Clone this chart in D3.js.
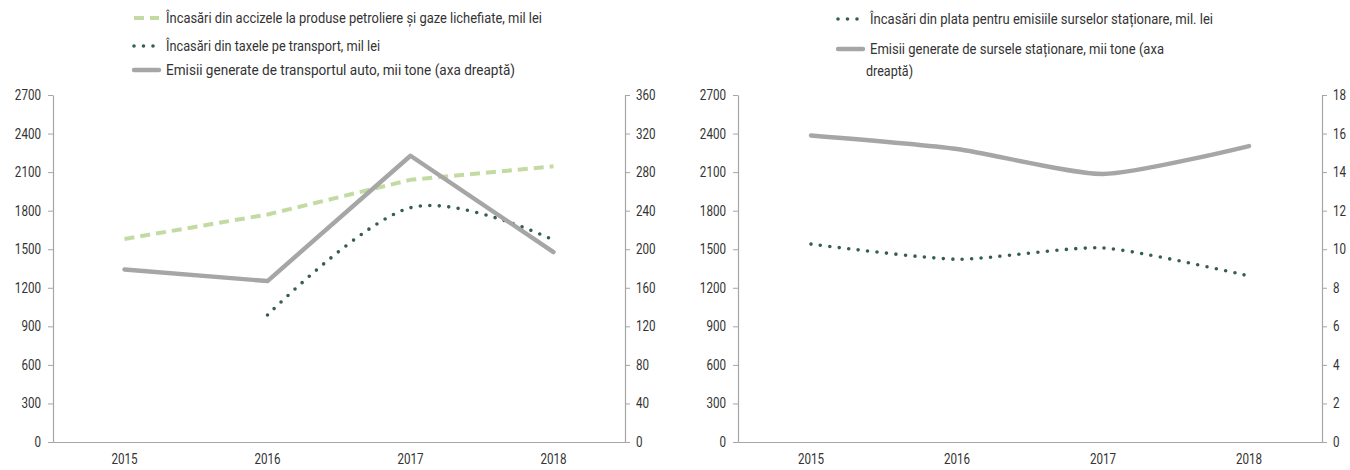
<!DOCTYPE html>
<html>
<head>
<meta charset="utf-8">
<script src="https://cdn.jsdelivr.net/npm/d3@7"></script>
<style>
  html, body { margin: 0; padding: 0; background: #fff; }
  svg { display: block; }
  text { font-family: Roboto, "Liberation Sans", sans-serif; fill: #333; }
</style>
</head>
<body>
<svg id="chart" width="1350" height="470"></svg>
<script>
// Years on the horizontal axis
const years = ['2015', '2016', '2017', '2018'];

// Left panel: transport
const fuelExciseRevenue = [1580, 1770, 2040, 2145];      // mil lei, left axis
const transportTaxRevenue = [null, 988, 1823, 1572];     // mil lei, left axis
const transportEmissions = [179, 167, 297, 197];         // mii tone, right axis

// Right panel: stationary sources
const stationaryFeeRevenue = [1540, 1422, 1510, 1292];   // mil lei, left axis
const stationaryEmissions = [15.9, 15.2, 13.9, 15.35];   // mii tone, right axis

// Axis ticks
const leftTicks = [0, 300, 600, 900, 1200, 1500, 1800, 2100, 2400, 2700];
const transportRightTicks = [0, 40, 80, 120, 160, 200, 240, 280, 320, 360];
const stationaryRightTicks = [0, 2, 4, 6, 8, 10, 12, 14, 16, 18];

// Legend labels
const transportLegend = [
  'Încasări din accizele la produse petroliere și gaze lichefiate, mil lei',
  'Încasări din taxele pe transport, mil lei',
  'Emisii generate de transportul auto, mii tone (axa dreaptă)'
];
const stationaryLegend = [
  'Încasări din plata pentru emisiile surselor staționare, mil. lei',
  ['Emisii generate de sursele staționare, mii tone (axa', 'dreaptă)']
];

const COLORS = { excise: '#c3dba2', tax: '#365e4f', emis: '#a6a6a6', axis: '#a6a6a6' };
const STYLES = {
  dashed: { stroke: COLORS.excise, width: 4, dash: '10,6', cap: 'butt' },
  dotted: { stroke: COLORS.tax, width: 3.6, dash: '0,9.5', cap: 'round' },
  solid:  { stroke: COLORS.emis, width: 4.4, dash: null, cap: 'round' }
};

const svg = d3.select('#chart');
const plotTop = 95, plotBottom = 442;
const NARROW = 0.83;   // horizontal condensing of tick labels

function styleLine(sel, st) {
  sel.attr('fill', 'none')
     .attr('stroke', st.stroke)
     .attr('stroke-width', st.width)
     .attr('stroke-linecap', st.cap)
     .attr('stroke-linejoin', 'round');
  if (st.dash) sel.attr('stroke-dasharray', st.dash);
  return sel;
}

function condense(sel, k) {
  sel.each(function () {
    const w = this.getComputedTextLength();
    d3.select(this).attr('textLength', w * k).attr('lengthAdjust', 'spacingAndGlyphs');
  });
}

function drawPanel(cfg) {
  const g = svg.append('g');
  const x = d3.scaleBand().domain(years).range([cfg.x0, cfg.x1]);
  const cx = d => x(d) + x.bandwidth() / 2;
  const yL = d3.scaleLinear().domain([0, 2700]).range([plotBottom, plotTop]);
  const yR = d3.scaleLinear().domain([0, cfg.rightMax]).range([plotBottom, plotTop]);

  const axL = g.append('g').attr('transform', `translate(${cfg.x0},0)`)
    .call(d3.axisLeft(yL).tickValues(leftTicks).tickSize(5).tickSizeOuter(0).tickPadding(7).tickFormat(d3.format('d')));
  const axR = g.append('g').attr('transform', `translate(${cfg.x1},0)`)
    .call(d3.axisRight(yR).tickValues(cfg.rightTicks).tickSize(5).tickSizeOuter(0).tickPadding(6).tickFormat(d3.format('d')));
  const axX = g.append('g').attr('transform', `translate(0,${plotBottom})`)
    .call(d3.axisBottom(x).tickSize(0).tickPadding(12));

  [axL, axR, axX].forEach(a => {
    a.select('.domain').attr('stroke', COLORS.axis).attr('stroke-width', 1.2);
    a.selectAll('.tick line').attr('stroke', COLORS.axis);
    a.selectAll('.tick text').attr('font-size', 14).attr('fill', '#2e2e2e')
      .style('font-family', 'Roboto, "Liberation Sans", sans-serif');
    condense(a.selectAll('.tick text'), NARROW);
  });

  cfg.series.forEach(s => {
    const y = s.axis === 'right' ? yR : yL;
    const pts = years.map((yr, i) => ({ yr, v: s.values[i] }));
    const line = d3.line()
      .defined(d => d.v !== null)
      .x(d => cx(d.yr))
      .y(d => y(d.v))
      .curve(s.curve);
    styleLine(g.append('path').datum(pts).attr('d', line), s.style);
  });

  // Legend: each text line is condensed to its own drawn width
  const lg = g.append('g');
  cfg.legend.forEach(item => {
    styleLine(lg.append('line')
      .attr('x1', item.sx).attr('x2', item.sx + 25)
      .attr('y1', item.y).attr('y2', item.y), item.style);
    const lines = Array.isArray(item.text) ? item.text : [item.text];
    lines.forEach((ln, k) => {
      lg.append('text')
        .attr('x', item.tx - (k ? 4 : 0))
        .attr('y', item.y + 4.5 + k * 22)
        .attr('font-size', 14).attr('fill', '#2a2a2a')
        .attr('textLength', item.widths[k])
        .attr('lengthAdjust', 'spacingAndGlyphs')
        .text(ln);
    });
  });
}

drawPanel({
  x0: 53, x1: 625, rightMax: 360, rightTicks: transportRightTicks,
  series: [
    { values: fuelExciseRevenue, axis: 'left', style: STYLES.dashed, curve: d3.curveLinear },
    { values: transportTaxRevenue, axis: 'left', style: STYLES.dotted, curve: d3.curveCardinal },
    { values: transportEmissions, axis: 'right', style: STYLES.solid, curve: d3.curveLinear }
  ],
  legend: [
    { text: transportLegend[0], style: STYLES.dashed, sx: 134, tx: 166, y: 18, widths: [376] },
    { text: transportLegend[1], style: STYLES.dotted, sx: 134, tx: 166, y: 46, widths: [214] },
    { text: transportLegend[2], style: STYLES.solid, sx: 134, tx: 166, y: 70, widths: [349] }
  ]
});

drawPanel({
  x0: 738, x1: 1322, rightMax: 18, rightTicks: stationaryRightTicks,
  series: [
    { values: stationaryFeeRevenue, axis: 'left', style: STYLES.dotted, curve: d3.curveCardinal.tension(0.35) },
    { values: stationaryEmissions, axis: 'right', style: STYLES.solid, curve: d3.curveCardinal.tension(0.35) }
  ],
  legend: [
    { text: stationaryLegend[0], style: STYLES.dotted, sx: 838, tx: 870, y: 19, widths: [343] },
    { text: stationaryLegend[1], style: STYLES.solid, sx: 838, tx: 870, y: 49, widths: [294, 47] }
  ]
});
</script>
</body>
</html>
